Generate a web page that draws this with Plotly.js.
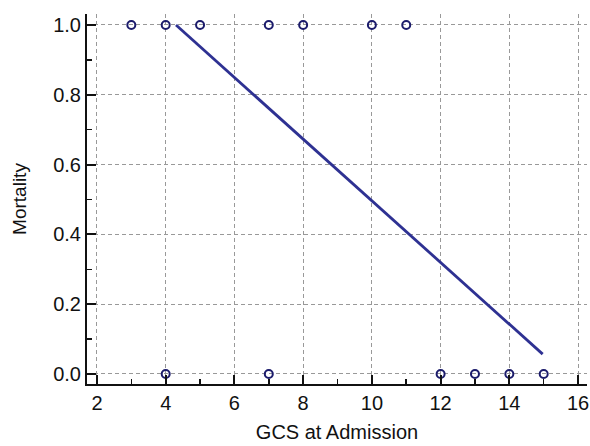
<!DOCTYPE html>
<html><head><meta charset="utf-8">
<script src="https://cdn.plot.ly/plotly-3.0.1.min.js"></script>
<style>body{margin:0;background:#fff}#c{width:590px;height:446px}</style>
</head><body><div id="c"></div>
<script>
const gcsObserved = [3, 4, 5, 7, 8, 10, 11, 4, 7, 12, 13, 14, 15];
const mortalityObserved = [1, 1, 1, 1, 1, 1, 1, 0, 0, 0, 0, 0, 0];
const fitGcs = [4.3, 14.97];
const fitMortality = [1.0, 0.057];
const xTicks = [2, 4, 6, 8, 10, 12, 14, 16];
const yTicks = [0.0, 0.2, 0.4, 0.6, 0.8, 1.0];

const traces = [
  {x: fitGcs, y: fitMortality, mode: 'lines', type: 'scatter',
   line: {color: '#2e3192', width: 2.8}, hoverinfo: 'skip'},
  {x: gcsObserved, y: mortalityObserved, mode: 'markers', type: 'scatter',
   marker: {symbol: 'circle-open', size: 8, color: '#1b1b6b', line: {width: 2, color: '#1b1b6b'}},
   cliponaxis: false}
];
const font = {family: 'Liberation Sans, Arial, sans-serif', color: '#111'};
const layout = {
  width: 590, height: 446,
  margin: {l: 87, r: 3, t: 14, b: 62},
  paper_bgcolor: '#fff', plot_bgcolor: '#fff',
  showlegend: false,
  font: font,
  xaxis: {
    range: [1.71, 16.26], tickvals: xTicks, ticktext: xTicks.map(String),
    showline: true, linecolor: '#111', linewidth: 2, mirror: false,
    ticks: 'inside', ticklen: 9, tickwidth: 2, tickcolor: '#111',
    minor: {dtick: 1, tick0: 0, ticks: 'inside', ticklen: 5, tickwidth: 1.5, tickcolor: '#111', showgrid: false},
    showgrid: true, gridcolor: '#999', gridwidth: 1, griddash: '4px,3px',
    zeroline: false, tickfont: {size: 20, color: '#111'},
    title: {text: 'GCS at Admission', font: {size: 20, color: '#111'}, standoff: 12}
  },
  yaxis: {
    range: [-0.0287, 1.0315], tickvals: yTicks, ticktext: yTicks.map(v => v.toFixed(1)),
    showline: true, linecolor: '#111', linewidth: 2, mirror: false,
    ticks: 'inside', ticklen: 9, tickwidth: 2, tickcolor: '#111',
    minor: {dtick: 0.1, tick0: 0, ticks: 'inside', ticklen: 5, tickwidth: 1.5, tickcolor: '#111', showgrid: false},
    showgrid: true, gridcolor: '#999', gridwidth: 1, griddash: '4px,3px',
    zeroline: false, tickfont: {size: 20, color: '#111'},
    title: {text: 'Mortality', font: {size: 19, color: '#111'}, standoff: 22}
  }
};
Plotly.newPlot('c', traces, layout, {displayModeBar: false, staticPlot: true});
</script></body></html>
